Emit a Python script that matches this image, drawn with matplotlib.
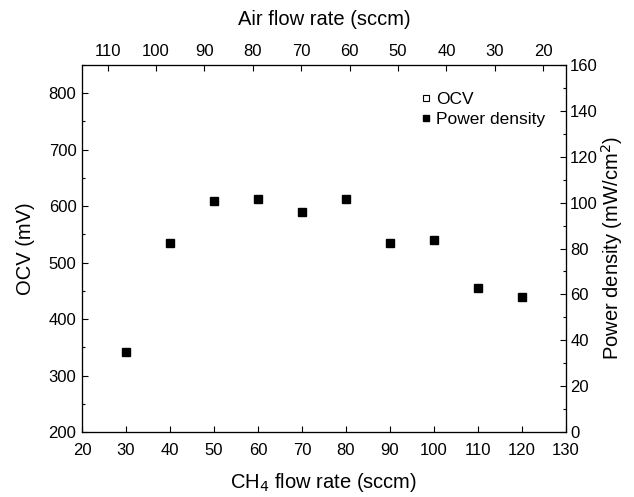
import matplotlib.pyplot as plt
from matplotlib.ticker import MultipleLocator
from matplotlib.lines import Line2D

plt.rcParams['font.family'] = ['Liberation Sans', 'DejaVu Sans']

ch4 = [30, 40, 50, 60, 70, 80, 90, 100, 110, 120]
power = [34.7, 82.3, 100.8, 101.4, 95.8, 101.4, 82.4, 83.8, 62.9, 58.9]
ocv = []  # no OCV points visible in the figure
air_ticks = [110, 100, 90, 80, 70, 60, 50, 40, 30, 20]

fig = plt.figure(figsize=(6.34, 4.97), dpi=100)
ax = fig.add_axes([0.1293, 0.1308, 0.7634, 0.7384])
ax.set_xlim(20, 130)
ax.set_ylim(200, 850)
ax.set_xticks(range(20, 131, 10))
ax.set_yticks(range(200, 801, 100))
ax.yaxis.set_minor_locator(MultipleLocator(50))
ax.tick_params(direction='in', labelsize=12, length=4, width=0.8, pad=4)
ax.tick_params(axis='x', pad=8)
ax.tick_params(which='minor', direction='in', length=2, width=0.8)
ax.set_xlabel('CH$_4$ flow rate (sccm)', fontsize=14.5, labelpad=9)
ax.set_ylabel('OCV (mV)', fontsize=14.5, labelpad=10)

# top axis: air flow rate
top = ax.twiny()
top.set_xlim(115.3, 15.3)
top.set_xticks(air_ticks)
top.tick_params(direction='in', labelsize=12, length=4, width=0.8, pad=4)
top.set_xlabel('Air flow rate (sccm)', fontsize=14.5, labelpad=14)

# right axis: power density
ax2 = ax.twinx()
ax2.set_ylim(0, 160)
ax2.set_yticks(range(0, 161, 20))
ax2.yaxis.set_minor_locator(MultipleLocator(10))
ax2.tick_params(direction='in', labelsize=12, length=4, width=0.8, pad=3)
ax2.tick_params(which='minor', direction='in', length=2, width=0.8)
ax2.set_ylabel('Power density (mW/cm$^2$)', fontsize=14.5, labelpad=1)

ax.plot(ch4[:len(ocv)], ocv, 's', mfc='white', mec='black', ms=5.5)
ax2.plot(ch4, power, 's', color='black', ms=5.5)

handles = [Line2D([], [], ls='none', marker='s', mfc='white', mec='black', ms=5, mew=0.8),
           Line2D([], [], ls='none', marker='s', color='black', ms=5)]
ax2.legend(handles, ['OCV', 'Power density'], loc='upper right', frameon=False,
           fontsize=12.5, handletextpad=0.1, handlelength=1.0, labelspacing=0.3,
           bbox_to_anchor=(0.99, 0.97))

for a in (ax, top, ax2):
    for s in a.spines.values():
        s.set_linewidth(0.8)

fig.savefig('out.png', dpi=100)
